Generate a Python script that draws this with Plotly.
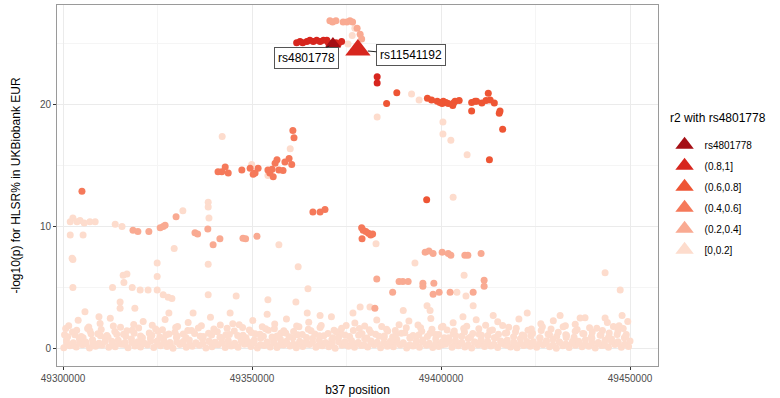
import plotly.graph_objects as go

POS_BASE = 49300000  # bp; positions below are kb offsets from this

# ---- background [0,0.2] dense band ----
bg0_kb = [0.2,1.8,3.5,5.1,7.0,8.6,10.3,12.1,13.8,15.4,17.2,19.0,20.5,22.3,24.0,25.8,27.5,29.1,30.9,32.6,
          34.2,36.0,37.8,39.4,41.1,42.9,44.5,46.3,48.0,49.7,51.4,53.2,54.8,56.6,58.3,60.0,61.7,63.4,65.2,66.9,
          68.6,70.3,72.0,73.8,75.5,77.1,78.9,80.6,82.3,84.0,85.8,87.4,89.2,90.9,92.6,94.3,96.1,97.8,99.4,101.2,
          102.9,104.6,106.3,108.1,109.8,111.5,113.2,115.0,116.7,118.4,120.1,121.8,123.6,125.3,127.0,128.7,130.5,132.2,133.9,135.6,
          137.3,139.1,140.8,142.5,144.3,146.0,147.7,149.6]
bg0_val = [0.05,0.21,0.12,0.30,0.02,0.17,0.26,0.08,0.14,0.33,0.04,0.19,0.11,0.28,0.07,0.22,0.15,0.01,0.31,0.09,
           0.18,0.25,0.03,0.13,0.29,0.06,0.20,0.10,0.34,0.16,0.02,0.24,0.12,0.07,0.27,0.19,0.04,0.15,0.32,0.09,
           0.21,0.13,0.01,0.26,0.17,0.08,0.23,0.11,0.30,0.05,0.18,0.14,0.28,0.03,0.20,0.10,0.25,0.06,0.16,0.33,
           0.08,0.22,0.12,0.02,0.27,0.15,0.19,0.07,0.31,0.11,0.04,0.24,0.17,0.09,0.29,0.13,0.01,0.21,0.06,0.26,
           0.14,0.18,0.03,0.23,0.10,0.32,0.08,0.16]
bg4_kb = [1.0,2.6,4.4,6.1,7.9,9.4,11.1,13.0,14.7,16.3,18.2,19.9,21.5,23.2,25.0,26.7,28.4,30.1,31.7,33.5,
          35.2,37.0,38.7,40.3,42.0,43.8,45.5,47.2,48.8,50.5,52.2,54.0,55.8,57.4,59.1,60.9,62.5,64.2,66.0,67.7,
          69.4,71.2,72.9,74.6,76.4,78.1,79.7,81.4,83.2,84.9,86.6,88.2,90.0,91.7,93.4,95.1,96.9,98.7,100.3,102.1,
          103.8,105.4,107.2,108.9,110.7,112.3,114.0,115.8,117.5,119.2,121.0,122.6,124.4,126.1,127.8,129.6,131.3,133.0,134.7,136.4,
          138.1,139.9,141.7,143.3,145.1,146.9,148.6]
bg4_val = [0.38,0.27,0.51,0.33,0.45,0.29,0.56,0.36,0.42,0.31,0.49,0.26,0.40,0.58,0.34,0.47,0.30,0.53,0.39,0.28,
           0.44,0.35,0.57,0.32,0.48,0.41,0.27,0.54,0.37,0.46,0.30,0.52,0.43,0.29,0.59,0.36,0.40,0.33,0.50,0.26,
           0.45,0.38,0.55,0.31,0.42,0.48,0.28,0.57,0.35,0.44,0.32,0.51,0.39,0.27,0.46,0.53,0.34,0.41,0.29,0.56,
           0.37,0.43,0.30,0.50,0.36,0.58,0.33,0.45,0.26,0.49,0.40,0.31,0.54,0.38,0.47,0.28,0.52,0.35,0.43,0.59,
           0.32,0.46,0.39,0.27,0.55,0.41,0.34]
bg1_kb = [0.9,2.7,4.3,6.0,7.8,9.5,11.2,12.9,14.6,16.4,18.1,19.8,21.4,23.1,24.9,26.6,28.3,30.0,31.8,33.4,
          35.1,36.9,38.6,40.2,42.0,43.7,45.4,47.1,48.9,50.6,52.3,54.0,55.7,57.5,59.2,60.8,62.6,64.3,66.0,67.8,
          69.5,71.1,72.9,74.6,76.3,78.0,79.8,81.5,83.1,84.9,86.6,88.3,90.0,91.8,93.5,95.2,96.9,98.6,100.3,102.0,
          103.8,105.5,107.2,108.9,110.6,112.4,114.1,115.8,117.5,119.3,121.0,122.7,124.4,126.2,127.9,129.6,131.3,133.1,134.8,136.5,
          138.2,139.9,141.6,143.4,145.1,146.8,148.5,150.0]
bg1_val = [0.62,0.45,0.81,0.53,0.70,0.41,0.88,0.58,0.66,0.49,0.77,0.55,0.43,0.84,0.61,0.72,0.47,0.90,0.56,0.68,
           0.44,0.79,0.60,0.51,0.86,0.64,0.42,0.75,0.57,0.69,0.83,0.48,0.63,0.74,0.40,0.87,0.59,0.52,0.80,0.67,
           0.46,0.71,0.89,0.54,0.65,0.43,0.78,0.61,0.50,0.85,0.58,0.73,0.45,0.82,0.62,0.69,0.41,0.76,0.55,0.88,
           0.64,0.47,0.80,0.53,0.71,0.44,0.86,0.60,0.67,0.49,0.79,0.56,0.42,0.84,0.63,0.74,0.51,0.90,0.58,0.45,
           0.70,0.82,0.48,0.66,0.77,0.54,0.87,0.61]
bg5_kb = [1.2,3.1,5.3,7.4,9.9,11.9,14.2,16.6,18.8,21.0,23.5,25.6,28.0,30.2,32.5,34.8,37.1,39.3,41.5,44.0,
          46.2,48.4,50.8,53.0,55.3,57.6,59.8,62.1,64.4,66.6,69.0,71.4,73.5,75.8,78.2,80.4,82.7,85.0,87.2,89.5,
          91.8,94.1,96.4,98.6,100.9,103.2,105.5,107.8,110.1,112.4,114.6,117.0,119.2,121.5,123.8,126.1,128.3,130.6,133.0,135.2,
          137.5,139.8,142.1,144.3,146.6,148.9]
bg5_val = [0.95,1.12,0.88,1.20,1.03,0.91,1.16,0.99,1.24,0.86,1.08,0.94,1.18,1.01,0.89,1.22,0.97,1.10,0.92,1.14,
           1.05,0.87,1.19,1.00,0.93,1.25,0.96,1.11,0.90,1.17,1.04,0.88,1.21,0.98,1.07,0.85,1.15,1.02,0.94,1.23,
           0.91,1.09,0.97,1.13,0.86,1.20,1.00,0.93,1.16,1.06,0.89,1.24,0.95,1.10,1.03,0.87,1.18,0.99,1.12,0.92,
           1.21,0.96,1.08,0.90,1.14,1.01]
bg2_kb = [0.4,2.5,4.8,7.1,9.2,11.6,13.7,16.0,18.3,20.5,22.8,25.1,27.2,29.6,31.8,34.0,36.3,38.5,40.8,43.1,
          45.3,47.6,49.8,52.1,54.3,56.6,58.9,61.0,63.3,65.6,67.8,70.1,72.3,74.6,76.8,79.1,81.4,83.6,85.9,88.1,
          90.4,92.6,94.9,97.1,99.4,101.6,103.9,106.2,108.4,110.7,112.9,115.2,117.4,119.7,122.0,124.2,126.5,128.7,131.0,133.2,
          135.5,137.8,140.0,142.3,144.5,146.8,149.0]
bg2_val = [1.12,1.35,0.98,1.44,1.20,1.05,1.38,1.16,1.49,1.02,1.27,1.41,1.09,1.33,1.18,1.46,0.99,1.24,1.37,1.11,
           1.43,1.07,1.30,1.15,1.48,1.01,1.26,1.39,1.13,1.45,1.04,1.22,1.36,1.10,1.47,1.19,1.31,1.00,1.42,1.17,
           1.29,1.06,1.40,1.23,1.14,1.50,1.03,1.34,1.21,1.08,1.44,1.16,1.28,1.37,1.01,1.25,1.46,1.12,1.32,1.05,
           1.41,1.19,1.35,1.09,1.26,1.43,1.14]
bg6_kb = [0.7,3.6,6.8,10.1,13.3,16.9,20.0,23.6,26.3,29.8,33.0,36.6,39.9,43.4,46.6,49.3,52.7,55.9,58.4,61.8,
          64.9,68.0,71.7,74.9,78.4,81.0,84.3,87.9,90.8,93.9,97.6,100.1,103.5,106.8,110.0,113.6,116.3,119.9,123.0,126.8,
          129.1,132.9,136.0,139.3,142.7,145.6,148.2]
bg6_val = [1.62,1.48,1.75,1.55,1.83,1.44,1.68,1.90,1.52,1.71,1.46,1.86,1.58,1.66,1.93,1.50,1.78,1.61,1.45,1.84,
           1.57,1.72,1.49,1.88,1.64,1.53,1.80,1.47,1.69,1.91,1.56,1.74,1.43,1.82,1.60,1.51,1.87,1.65,1.48,1.77,
           1.59,1.85,1.54,1.70,1.46,1.79,1.63]
bg3_kb = [1.5,4.0,6.5,9.8,12.5,15.2,18.7,21.2,24.5,27.0,30.3,33.1,35.8,39.0,41.6,44.9,47.5,50.2,53.6,56.0,
          59.1,62.4,65.0,68.3,71.0,73.7,77.2,79.8,83.0,85.6,88.9,91.5,94.6,97.3,100.5,103.2,106.0,109.3,111.8,115.0,
          117.9,120.6,123.9,126.4,129.7,132.3,135.5,138.1,141.2,144.0,147.1,149.4]
bg3_val = [1.85,2.30,1.62,2.05,2.48,1.74,1.96,2.21,1.58,2.37,1.80,2.12,1.67,2.55,1.91,2.02,1.71,2.28,1.60,1.99,
           2.40,1.77,2.15,1.88,2.60,1.65,2.08,1.83,2.33,1.56,1.94,2.24,1.69,2.46,1.81,2.10,1.63,2.35,1.90,2.18,
           1.73,2.42,1.59,2.01,2.27,1.78,1.97,2.52,1.66,2.13,1.86,2.20]

# scattered [0,0.2] points
r00_kb = [5.8,9.5,15.1,15.1,19.0,28.0,34.4,44.2,54.0,64.6,68.0,76.7,18.3,20.4,22.5,24.9,26.5,27.8,28.8,38.4,
          45.8,54.2,61.6,64.8,2.6,13.1,16.1,15.9,16.9,24.9,24.9,2.6,29.4,38.4,57.1,62.2,78.6,81.2,90.0,96.3,
          97.1,105.8,108.5,113.8,122.8,131.5,136.8,143.4,147.9,143.4,147.4,42.1,1.9,2.6,3.7,4.5,5.6,7.1,8.5,1.9,
          5.3,13.8,15.6,31.7,38.4,38.4,38.6,83.1,92.2,94.2,100.5,100.5,102.6,106.9,103.2,82.8,93.1,106.1,104.2,106.6,
          49.9,54.2,60.1,77.2,76.5,75.4,2.4]
r00_val = [3.0,2.6,3.8,3.3,3.3,2.9,2.9,2.9,2.8,2.9,2.7,2.9,5.0,4.8,4.8,4.8,4.4,4.2,4.1,4.4,
           4.3,4.0,3.8,4.9,5.0,5.0,5.4,6.0,6.1,7.0,5.9,7.3,8.2,6.9,8.5,6.7,3.4,3.4,3.1,3.5,
           3.1,2.6,3.5,2.7,2.9,2.7,2.5,2.5,2.7,6.2,4.8,17.4,10.4,10.7,10.4,10.5,10.3,10.4,10.4,9.3,
           9.3,10.2,10.0,11.3,12.0,11.6,10.7,19.0,20.9,20.4,18.6,17.6,17.1,15.9,12.4,8.6,7.0,6.0,4.6,4.3,
           15.1,14.2,16.4,26.3,25.7,25.0,7.4]

# (0.2,0.4]
r02_kb = [18.5,19.8,22.7,26.5,27.0,25.7,29.9,34.9,35.6,38.3,41.5,39.7,47.6,48.3,51.3,
          95.8,96.8,97.9,100.3,101.9,102.6,106.3,107.1,110.6,
          83.0,88.9,89.9,91.3,95.2,95.2,98.1,111.4,111.4,
          87.2,97.9,99.5,102.4,108.5,82.5,
          70.6,71.3,72.2,74.1,75.1,75.9,76.6,77.8,78.6,79.0]
r02_val = [9.7,9.6,9.6,10.0,10.1,9.9,10.8,9.5,9.4,9.8,9.0,8.5,9.05,9.0,9.2,
           7.9,8.0,7.8,7.9,7.8,7.65,7.65,7.65,7.8,
           5.7,5.5,5.5,5.5,5.35,5.1,5.35,5.6,5.1,
           4.6,4.45,4.6,4.6,4.6,3.3,
           26.9,26.8,26.9,26.8,26.8,26.9,26.8,26.3,25.8,25.4]

# (0.4,0.6]
r04_kb = [60.8,61.1,59.8,58.7,56.6,56.1,58.2,60.5,54.2,55.3,54.7,55.6,57.1,51.6,50.8,50.3,49.5,47.3,42.9,42.0,43.7,41.0,
          66.1,68.0,69.3,
          79.0,79.4,80.1,80.8,81.4,81.9,79.1,
          5.0]
r04_val = [17.9,17.3,15.6,15.3,15.5,15.2,14.6,15.1,14.65,14.7,14.4,14.1,14.65,14.8,14.4,14.3,14.8,14.65,14.9,14.5,14.4,14.5,
           11.2,11.2,11.4,
           9.9,9.7,9.6,9.45,9.3,9.4,9.0,
           12.9]

# (0.6,0.8]
r06_kb = [88.3,85.6,96.4,97.5,99.0,99.7,100.6,100.3,101.3,101.9,103.3,103.7,104.8,103.1,108.1,109.0,109.4,108.1,
          110.8,111.9,112.5,113.0,114.1,115.6,115.4,116.3,112.8,96.2]
r06_val = [21.0,20.1,20.55,20.4,20.3,20.2,20.3,20.1,20.2,20.1,20.15,20.3,20.35,19.95,20.2,20.3,20.3,19.5,
           20.15,20.35,20.95,20.4,20.15,19.5,19.3,18.0,15.5,12.2]

# (0.8,1]
r08_kb = [61.8,62.7,63.4,64.5,65.3,66.2,67.1,68.0,68.9,69.8,70.2,72.2,72.8,73.7,83.1,83.1]
r08_val = [25.1,25.2,25.1,25.2,25.3,25.2,25.3,25.2,25.3,25.3,25.1,25.1,25.0,25.2,22.3,21.8]

# labelled SNPs
lead_name = "rs4801778"
lead_kb = 71.4
lead_val = 25.0
snp2_name = "rs11541192"
snp2_kb = 78.0
snp2_val = 24.5

legend_title = "r2 with rs4801778"
legend_labels = ["rs4801778", "(0.8,1]", "(0.6,0.8]", "(0.4,0.6]", "(0.2,0.4]", "[0,0.2]"]
legend_colors = ["#A50F15", "#D7261E", "#EE5534", "#F5795A", "#F9AA92", "#FDDCCD"]

x_ticks = [49300000, 49350000, 49400000, 49450000]
y_ticks = [0, 10, 20]


def bp(kbs):
    return [POS_BASE + k * 1000 for k in kbs]


def pairs(kb, val):
    n = min(len(kb), len(val))
    return bp(kb[:n]), list(val[:n])


fig = go.Figure()

FONT = "Liberation Sans, Arial, sans-serif"

bx, by = [], []
for kb, val in [(bg0_kb, bg0_val), (bg4_kb, bg4_val), (bg1_kb, bg1_val), (bg5_kb, bg5_val),
                (bg2_kb, bg2_val), (bg6_kb, bg6_val), (bg3_kb, bg3_val), (r00_kb, r00_val)]:
    xx, yy = pairs(kb, val)
    bx += xx
    by += yy

groups = [
    (bx, by, legend_colors[5]),
    (*pairs(r02_kb, r02_val), legend_colors[4]),
    (*pairs(r04_kb, r04_val), legend_colors[3]),
    (*pairs(r06_kb, r06_val), legend_colors[2]),
    (*pairs(r08_kb, r08_val), legend_colors[1]),
]
for xx, yy, col in groups:
    fig.add_trace(go.Scatter(x=xx, y=yy, mode="markers", showlegend=False, hoverinfo="skip",
                             marker=dict(size=7, color=col, line=dict(width=0))))

fig.add_trace(go.Scatter(x=bp([snp2_kb]), y=[snp2_val], mode="markers", showlegend=False,
                         marker=dict(symbol="triangle-up", size=22, color=legend_colors[1], line=dict(width=0))))
fig.add_trace(go.Scatter(x=bp([lead_kb]), y=[lead_val], mode="markers", showlegend=False,
                         marker=dict(symbol="triangle-up", size=14, color=legend_colors[0], line=dict(width=0))))

for i, (lab, col) in enumerate(zip(legend_labels, legend_colors)):
    fig.add_trace(go.Scatter(x=[None], y=[None], mode="markers", name=lab, legendgroup=f"g{i}",
                             marker=dict(symbol="triangle-up", size=16, color=col, line=dict(width=0))))

ann_common = dict(showarrow=True, arrowhead=0, arrowwidth=1, arrowcolor="#222",
                  bgcolor="white", bordercolor="#555", borderwidth=1, borderpad=3,
                  font=dict(family=FONT, size=12, color="black"))
fig.add_annotation(x=bp([lead_kb])[0], y=lead_val, text=lead_name, ax=-26, ay=14, standoff=4, **ann_common)
fig.add_annotation(x=bp([snp2_kb])[0], y=snp2_val, text=snp2_name, ax=53, ay=5, standoff=10, **ann_common)

# legend title drawn as text
fig.add_annotation(xref="paper", yref="paper", x=1.0166, y=0.687, xanchor="left", yanchor="middle",
                   text=legend_title, showarrow=False, font=dict(family=FONT, size=12, color="black"))

axis_common = dict(showline=True, linecolor="#9A9A9A", linewidth=1, mirror=True,
                   showgrid=True, gridcolor="#EBEBEB", gridwidth=1, zeroline=False,
                   ticks="outside", ticklen=3, tickcolor="#333333", automargin=False,
                   tickfont=dict(family=FONT, size=10, color="#4D4D4D"))

fig.update_xaxes(range=[49298400, 49457400], tickvals=x_ticks, ticktext=[str(v) for v in x_ticks],
                 title=dict(text="b37 position", font=dict(family=FONT, size=12, color="black"), standoff=2),
                 minor=dict(dtick=25000, tick0=49300000, showgrid=True, gridcolor="#F5F5F5", ticklen=0),
                 **axis_common)
fig.update_yaxes(range=[-1.45, 28.2], tickvals=y_ticks,
                 title=dict(text="-log10(p) for HLSR% in UKBiobank EUR", font=dict(family=FONT, size=12, color="black"), standoff=16),
                 minor=dict(dtick=5, tick0=0, showgrid=True, gridcolor="#F5F5F5", ticklen=0),
                 **axis_common)

fig.update_layout(
    width=780, height=398,
    margin=dict(l=57, r=122, t=5, b=32, autoexpand=False),
    plot_bgcolor="white", paper_bgcolor="white",
    font=dict(family=FONT),
    legend=dict(xref="container", yref="container", x=0.852, y=0.673, xanchor="left", yanchor="top",
                font=dict(family=FONT, size=10, color="black"), tracegroupgap=2,
                bgcolor="rgba(0,0,0,0)", itemsizing="trace"),
)

fig.write_html("out.html", config={"displayModeBar": False},
               post_script="document.body.style.margin='0';document.body.style.padding='0';")
